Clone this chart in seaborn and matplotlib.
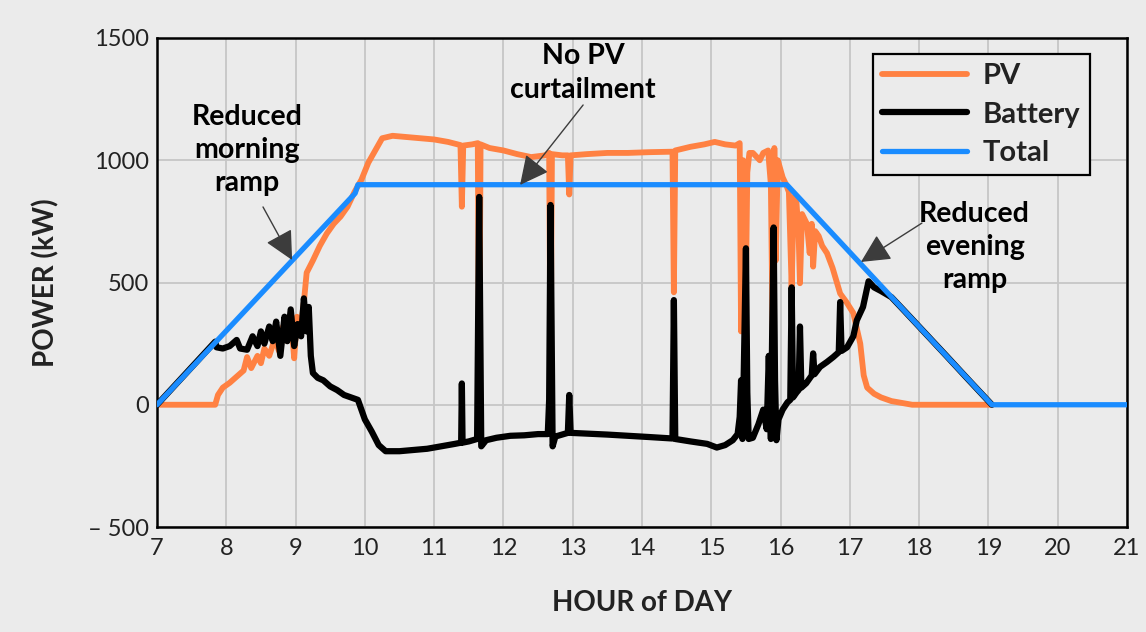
import matplotlib
matplotlib.use("Agg")
import matplotlib.pyplot as plt
import seaborn as sns
import pandas as pd

# ---------------- data ----------------
total_hour = [7.0, 9.86, 9.9, 16.09, 19.05, 21.0]
total_kw = [0, 865, 900, 900, 0, 0]

pv_hour = [7.0, 7.84, 7.88, 7.95, 8.05, 8.15, 8.25, 8.3, 8.36, 8.45, 8.5, 8.55, 8.62,
           8.7, 8.76, 8.82, 8.88, 8.94, 8.98, 9.02, 9.08, 9.12, 9.16, 9.25, 9.35, 9.45,
           9.55, 9.65, 9.75, 9.85, 9.95, 10.05, 10.15, 10.25, 10.4, 10.6, 10.8, 11.0,
           11.2, 11.38, 11.40, 11.42, 11.55, 11.63, 11.65, 11.67, 11.8, 12.0, 12.2,
           12.4, 12.6, 12.66, 12.68, 12.70, 12.85, 12.93, 12.95, 12.97, 13.2, 13.5,
           13.8, 14.1, 14.44, 14.46, 14.48, 14.7, 14.9, 15.05, 15.2, 15.35, 15.41,
           15.43, 15.46, 15.49, 15.52, 15.55, 15.6, 15.7, 15.75, 15.82, 15.86, 15.89,
           15.91, 15.93, 15.96, 16.03, 16.08, 16.12, 16.16, 16.19, 16.23, 16.26, 16.28,
           16.31, 16.38, 16.42, 16.45, 16.47, 16.5, 16.55, 16.6, 16.67, 16.75, 16.86,
           16.95, 17.05, 17.15, 17.2, 17.25, 17.35, 17.45, 17.6, 17.8, 17.9, 19.05]
pv_kw = [0, 0, 40, 70, 90, 115, 140, 195, 150, 200, 170, 230, 200,
         270, 220, 320, 260, 330, 190, 360, 330, 420, 540, 590, 650, 700,
         740, 770, 810, 870, 920, 990, 1040, 1090, 1100, 1095, 1090, 1085,
         1075, 1062, 810, 1060, 1065, 1070, 50, 1065, 1050, 1040, 1025,
         1013, 1020, 1030, 80, 1025, 1020, 1020, 860, 1020, 1025, 1030,
         1030, 1033, 1035, 460, 1040, 1055, 1065, 1075, 1065, 1060, 1070,
         300, 1000, 250, 950, 1030, 1030, 1000, 1030, 1040, 900, 180,
         1050, 590, 1000, 930, 900, 870, 480, 850, 825, 700, 497,
         780, 740, 620, 740, 565, 710, 690, 650, 620, 560, 455,
         420, 375, 250, 120, 70, 45, 30, 15, 5, 0, 0]

bat_hour = [7.0, 7.84, 7.86, 7.95, 8.05, 8.15, 8.2, 8.3, 8.38, 8.45, 8.5, 8.55, 8.62,
            8.67, 8.72, 8.78, 8.84, 8.88, 8.93, 8.98, 9.03, 9.08, 9.12, 9.16, 9.19,
            9.22, 9.25, 9.32, 9.4, 9.5, 9.6, 9.7, 9.8, 9.9, 10.0, 10.1, 10.2, 10.3,
            10.5, 10.7, 10.9, 11.1, 11.3, 11.39, 11.40, 11.41, 11.5, 11.62, 11.65,
            11.68, 11.75, 11.9, 12.1, 12.3, 12.5, 12.64, 12.66, 12.68, 12.71, 12.75,
            12.93, 12.95, 12.97, 13.2, 13.5, 13.8, 14.1, 14.44, 14.46, 14.48, 14.7,
            14.94, 15.08, 15.2, 15.31, 15.38, 15.41, 15.43, 15.45, 15.47, 15.5, 15.52,
            15.54, 15.6, 15.68, 15.75, 15.8, 15.83, 15.86, 15.88, 15.9, 15.92, 15.94,
            15.97, 16.03, 16.1, 16.14, 16.16, 16.18, 16.23, 16.26, 16.28, 16.3, 16.37,
            16.45, 16.47, 16.49, 16.57, 16.67, 16.76, 16.84, 16.86, 16.88, 16.96,
            17.05, 17.1, 17.19, 17.27, 17.35, 17.45, 17.6, 17.8, 18.1, 18.4, 18.7,
            19.05]
bat_kw = [0, 258, 235, 230, 240, 265, 230, 225, 280, 240, 300, 250, 320,
          260, 340, 200, 360, 260, 390, 240, 330, 280, 435, 300, 400,
          200, 130, 110, 100, 75, 60, 40, 30, 20, -60, -110, -165, -190,
          -190, -185, -180, -170, -160, -155, 87, -155, -150, -140, 850,
          -170, -145, -135, -127, -125, -120, -120, 20, 817, -170, -130,
          -115, 40, -115, -118, -122, -127, -132, -138, 428, -140, -150,
          -160, -175, -165, -145, -120, -50, 100, -140, 150, 640, 50,
          -140, -135, -80, -20, -100, 200, -140, 320, 725, 100, -145,
          -60, -20, 10, 20, 480, 30, 50, 60, 320, 70, 88,
          120, 210, 125, 155, 175, 195, 215, 420, 220, 235,
          280, 345, 400, 505, 480, 465, 440, 380, 289, 198, 106,
          0]

series_names = ["PV", "Battery", "Total"]
hour_ticks = list(range(7, 22))
kw_ticks = [-500, 0, 500, 1000, 1500]
kw_tick_labels = ["\u2013 500", "0", "500", "1000", "1500"]

# ---------------- style ----------------
BG = "#ebebeb"
sns.set_theme(style="whitegrid", rc={
    "figure.facecolor": BG,
    "axes.facecolor": BG,
    "grid.color": "#c6c6c6",
    "grid.linewidth": 1.3,
    "axes.edgecolor": "black",
    "axes.linewidth": 1.8,
})
plt.rcParams["font.family"] = ["Lato", "DejaVu Sans"]

fig = plt.figure(figsize=(11.46, 6.32), dpi=100)
ax = fig.add_axes([157 / 1146, 1 - 527 / 632, 970 / 1146, 489 / 632])

pv_df = pd.DataFrame({"hour": pv_hour, "kW": pv_kw})
bat_df = pd.DataFrame({"hour": bat_hour, "kW": bat_kw})
tot_df = pd.DataFrame({"hour": total_hour, "kW": total_kw})

sns.lineplot(data=pv_df, x="hour", y="kW", ax=ax, color="#ff8142", lw=4.2,
             sort=False, estimator=None, label=series_names[0], zorder=2)
sns.lineplot(data=bat_df, x="hour", y="kW", ax=ax, color="black", lw=4.5,
             sort=False, estimator=None, label=series_names[1], zorder=3)
sns.lineplot(data=tot_df, x="hour", y="kW", ax=ax, color="#1a8cff", lw=3.8,
             sort=False, estimator=None, label=series_names[2], zorder=4)

ax.set_xlim(7, 21)
ax.set_ylim(-500, 1500)
ax.set_xticks(hour_ticks)
ax.set_xticklabels([str(h) for h in hour_ticks])
ax.set_yticks(kw_ticks)
ax.set_yticklabels(kw_tick_labels)
ax.tick_params(axis="both", length=0, labelsize=17, colors="#222222")
ax.tick_params(axis="x", pad=8)
ax.tick_params(axis="y", pad=6)
ax.grid(True, zorder=0)
ax.set_axisbelow(True)
for s in ax.spines.values():
    s.set_visible(True)
    s.set_color("black")
    s.set_linewidth(1.8)

ax.set_xlabel("HOUR of DAY", fontsize=20, fontweight="bold", color="#222222", labelpad=22)
ax.set_ylabel("POWER (kW)", fontsize=20, fontweight="bold", color="#222222", labelpad=20)

leg = ax.legend(loc="upper left", bbox_to_anchor=(873 / 1146, 1 - 54 / 632),
                bbox_transform=fig.transFigure, frameon=True, fancybox=False,
                facecolor=BG, edgecolor="black", framealpha=1,
                prop={"weight": "bold", "size": 21}, handlelength=2.9,
                handletextpad=0.55, labelspacing=0.42, borderpad=0.32,
                borderaxespad=0)
leg.get_frame().set_linewidth(1.6)
leg._legend_box.align = "left"
for t in leg.get_texts():
    t.set_color("#222222")

arrow_kw = dict(arrowstyle="-|>,head_length=0.9,head_width=0.45", color="#3c3c3c",
                lw=1.0, mutation_scale=20, shrinkA=0, shrinkB=0)
txt_kw = dict(ha="center", va="center", fontsize=20.5, fontweight="bold",
              color="black", linespacing=1.35, zorder=6)

ax.annotate("", xy=(8.95, 592), xytext=(8.53, 809), arrowprops=arrow_kw, zorder=6)
ax.text(8.3, 1042, "Reduced\nmorning\nramp", **txt_kw)

ax.annotate("", xy=(12.24, 899), xytext=(13.15, 1226), arrowprops=arrow_kw, zorder=6)
ax.text(13.15, 1357, "No PV\ncurtailment", **txt_kw)

ax.annotate("", xy=(17.16, 584), xytext=(18.04, 743), arrowprops=arrow_kw, zorder=6)
ax.text(18.8, 645, "Reduced\nevening\nramp", **txt_kw)

fig.savefig("out.png", dpi=100, facecolor=BG)
